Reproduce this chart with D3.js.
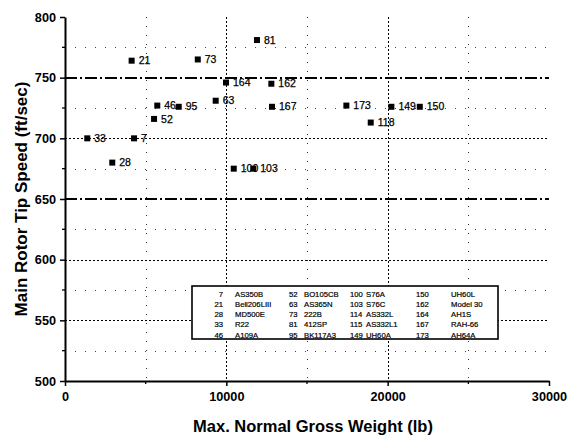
<!DOCTYPE html>
<html>
<head>
<meta charset="utf-8">
<script src="https://cdn.jsdelivr.net/npm/d3@7"></script>
<style>
  body { margin: 0; background: #fff; }
  svg { font-family: "Liberation Sans", Arial, sans-serif; }
</style>
</head>
<body>
<div id="chart"></div>
<script>
// helicopter id labels, gross weight (lb), tip speed (ft/sec)
const ids = ["7", "21", "28", "33", "46", "52", "63", "73", "81", "95", "100", "103", "118", "149", "150", "162", "164", "167", "173"]
const weights = [4280, 4130, 2930, 1380, 5720, 5520, 9340, 8230, 11900, 7050, 10460, 11670, 18950, 20230, 21990, 12790, 9980, 12830, 17440]
const speeds = [700, 764, 680, 700, 727, 716, 731, 765, 781, 726, 675, 675, 713, 726, 726, 745, 746, 726, 727]

const xTicks = [0, 10000, 20000, 30000]
const yTicks = [500, 550, 600, 650, 700, 750, 800]
const refLines = [750, 650]

// legend table, one list per column
const legendNums = [
  ["7", "21", "28", "33", "46"],
  ["52", "63", "73", "81", "95"],
  ["100", "103", "114", "115", "149"],
  ["150", "162", "164", "167", "173"]
]
const legendNames = [
  ["AS350B", "Bell206LIII", "MD500E", "R22", "A109A"],
  ["BO105CB", "AS365N", "222B", "412SP", "BK117A3"],
  ["S76A", "S76C", "AS332L", "AS332L1", "UH60A"],
  ["UH60L", "Model 30", "AH1S", "RAH-66", "AH64A"]
]

const width = 568, height = 437
const margin = { top: 17, right: 19, bottom: 56, left: 65 }

const svg = d3.select("#chart")
  .append("svg")
  .attr("width", width)
  .attr("height", height)

const x = d3.scaleLinear().domain([0, 30000]).range([margin.left, width - margin.right])
const y = d3.scaleLinear().domain([500, 800]).range([height - margin.bottom, margin.top])
const px = v => Math.round(v) + 0.5

const grid = svg.append("g").attr("shape-rendering", "crispEdges")

// vertical grid
grid.selectAll(".vmaj")
  .data([10000, 20000])
  .enter().append("line")
    .attr("x1", d => px(x(d))).attr("x2", d => px(x(d)))
    .attr("y1", y(800)).attr("y2", y(500))
    .attr("stroke", "#000").attr("stroke-width", 1)
    .attr("stroke-dasharray", "2,2")

grid.selectAll(".vmin")
  .data([5000, 15000, 25000])
  .enter().append("line")
    .attr("x1", d => px(x(d))).attr("x2", d => px(x(d)))
    .attr("y1", y(800)).attr("y2", y(500))
    .attr("stroke", "#333").attr("stroke-width", 1)
    .attr("stroke-dasharray", "1,8")

// horizontal grid
grid.selectAll(".hmaj")
  .data([700, 600, 550])
  .enter().append("line")
    .attr("x1", x(0)).attr("x2", x(30000))
    .attr("y1", d => px(y(d))).attr("y2", d => px(y(d)))
    .attr("stroke", "#000").attr("stroke-width", 1)
    .attr("stroke-dasharray", "2,2")

grid.selectAll(".hmin")
  .data([775, 725, 675, 625, 575, 525])
  .enter().append("line")
    .attr("x1", x(0)).attr("x2", x(30000))
    .attr("y1", d => px(y(d))).attr("y2", d => px(y(d)))
    .attr("stroke", "#444").attr("stroke-width", 1)
    .attr("stroke-dasharray", "1,9")

// dash-dot reference lines
grid.selectAll(".ref")
  .data(refLines)
  .enter().append("line")
    .attr("x1", x(0)).attr("x2", x(30000))
    .attr("y1", d => y(d)).attr("y2", d => y(d))
    .attr("stroke", "#000").attr("stroke-width", 2)
    .attr("stroke-dasharray", "12,3,2,3")

// axes
const xAxis = d3.axisBottom(x).tickValues(xTicks).tickFormat(d3.format("d"))
  .tickSize(5).tickSizeOuter(0).tickPadding(6)
const yAxis = d3.axisLeft(y).tickValues(yTicks).tickFormat(d3.format("d"))
  .tickSize(5).tickSizeOuter(0).tickPadding(4)

const gx = svg.append("g")
  .attr("transform", `translate(0,${y(500)})`)
  .call(xAxis)
const gy = svg.append("g")
  .attr("transform", `translate(${x(0)},0)`)
  .call(yAxis)

;[gx, gy].forEach(g => {
  g.select(".domain").attr("stroke", "#000").attr("stroke-width", 2)
  g.selectAll(".tick line").attr("stroke", "#000").attr("stroke-width", 1.5)
  g.selectAll(".tick text")
    .attr("fill", "#000")
    .attr("font-size", 12.7)
    .attr("font-weight", "bold")
    .attr("font-family", "Liberation Sans, Arial, sans-serif")
})

// minor ticks
svg.append("g").selectAll("line")
  .data([5000, 15000, 25000])
  .enter().append("line")
    .attr("x1", d => x(d)).attr("x2", d => x(d))
    .attr("y1", y(500)).attr("y2", y(500) + 3)
    .attr("stroke", "#000").attr("stroke-width", 1.3)

svg.append("g").selectAll("line")
  .data([775, 725, 675, 625, 575, 525])
  .enter().append("line")
    .attr("x1", x(0) - 3).attr("x2", x(0))
    .attr("y1", d => y(d)).attr("y2", d => y(d))
    .attr("stroke", "#000").attr("stroke-width", 1.3)

// axis titles
svg.append("text")
  .attr("x", (x(0) + x(30000)) / 2 + 6)
  .attr("y", 432)
  .attr("text-anchor", "middle")
  .attr("font-size", 16.5)
  .attr("font-weight", "bold")
  .text("Max. Normal Gross Weight (lb)")

svg.append("text")
  .attr("transform", `translate(27,${(y(500) + y(800)) / 2}) rotate(-90)`)
  .attr("text-anchor", "middle")
  .attr("font-size", 17)
  .attr("font-weight", "bold")
  .text("Main Rotor Tip Speed (ft/sec)")

// points
const pts = svg.append("g")
  .selectAll("g")
  .data(ids.map((id, i) => ({ id, w: weights[i], s: speeds[i] })))
  .enter().append("g")
    .attr("transform", d => `translate(${x(d.w)},${y(d.s)})`)

pts.append("rect")
  .attr("x", -3).attr("y", -3)
  .attr("width", 6).attr("height", 6)
  .attr("fill", "#000")

pts.append("text")
  .attr("x", 7)
  .attr("dy", "0.35em")
  .attr("font-size", 10.5)
  .attr("fill", "#000")
  .attr("stroke", "#000")
  .attr("stroke-width", 0.25)
  .text(d => d.id)

// legend box
const legend = svg.append("g")
legend.append("rect")
  .attr("x", 192).attr("y", 286)
  .attr("width", 306).attr("height", 53)
  .attr("fill", "#fff")
  .attr("stroke", "#000")
  .attr("stroke-width", 1.6)

const numX = [223, 289, 350, 416]
const numAnchor = ["end", "start", "start", "start"]
const nameX = [235, 304, 366, 451]
const rowY = d3.scaleLinear().domain([0, 4]).range([294, 335])

legendNums.forEach((col, c) => {
  legend.append("g").selectAll("text")
    .data(col)
    .enter().append("text")
      .attr("x", numX[c])
      .attr("y", (d, r) => rowY(r))
      .attr("dy", "0.35em")
      .attr("text-anchor", numAnchor[c])
      .attr("font-size", 7.7)
      .attr("stroke", "#000").attr("stroke-width", 0.2)
      .text(d => d)
  legend.append("g").selectAll("text")
    .data(legendNames[c])
    .enter().append("text")
      .attr("x", nameX[c])
      .attr("y", (d, r) => rowY(r))
      .attr("dy", "0.35em")
      .attr("font-size", 7.7)
      .attr("stroke", "#000").attr("stroke-width", 0.2)
      .text(d => d)
})
</script>
</body>
</html>
